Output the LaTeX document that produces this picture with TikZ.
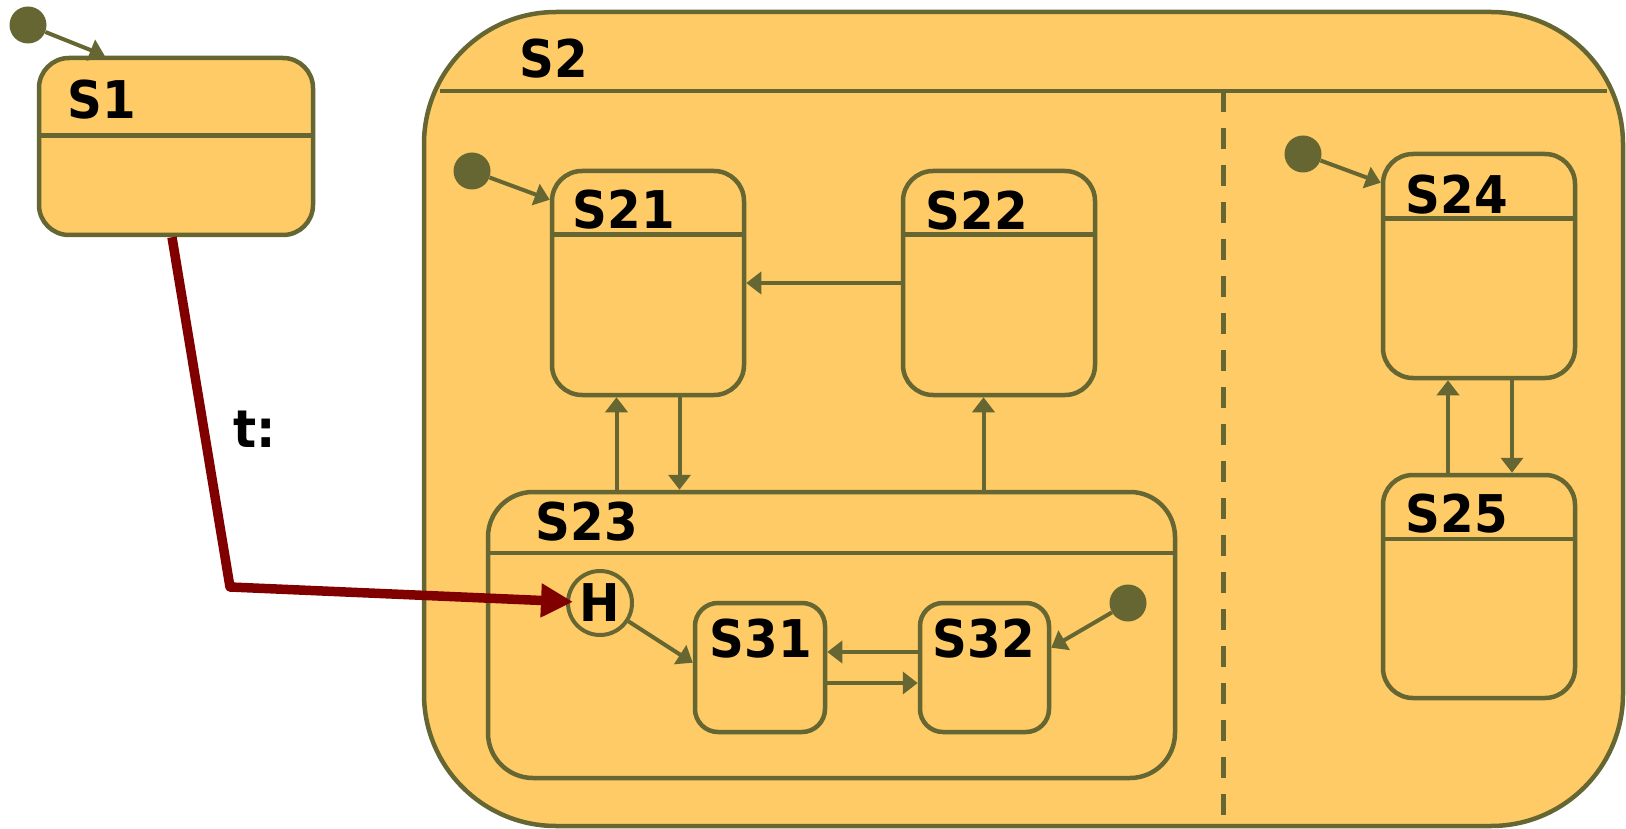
\documentclass[tikz,border=0pt]{standalone}
\usepackage{fontspec}
\setmainfont{DejaVu Sans}
\newfontfamily\statefont[FakeStretch=0.93]{DejaVu Sans}
\usetikzlibrary{arrows.meta}
\definecolor{stateolive}{HTML}{666633}
\definecolor{statefill}{HTML}{FECB66}
\definecolor{transred}{HTML}{800000}

\tikzset{
  state/.style={draw=stateolive, fill=statefill, line width=4.5pt, rounded corners=30pt, inner sep=0pt},
  initdot/.style={circle, fill=stateolive, minimum size=37pt, inner sep=0pt},
  trans/.style={draw=stateolive, line width=4pt, -{Triangle[length=15pt,width=22pt]}},
  sep/.style={draw=stateolive, line width=4.5pt},
  lbl/.style={font=\fontsize{52pt}{60pt}\statefont\bfseries, inner sep=0pt, anchor=base west},
}

\begin{document}
\begin{tikzpicture}[x=1pt, y=-1pt]
  \useasboundingbox (0,0) rectangle (1626,829);
  % states
  \node[state, minimum width=274pt, minimum height=177pt] (s1) at (176,146.5) {};
  \node[state, rounded corners=132pt, minimum width=1199pt, minimum height=814pt] (s2) at (1023.5,419) {};
  \draw[sep] (440,91) -- (1607,91);
  \draw[draw=stateolive, line width=5pt, dash pattern=on 21pt off 16pt] (1223,91) -- (1223,826);
  \node[state, minimum width=192pt, minimum height=224pt] (s21) at (648,283) {};
  \node[state, minimum width=192pt, minimum height=224pt] (s22) at (999,283) {};
  \node[state, rounded corners=45pt, minimum width=687pt, minimum height=286pt] (s23) at (831.5,635) {};
  \node[state, rounded corners=23pt, minimum width=130pt, minimum height=129pt] (s31) at (760,667.5) {};
  \node[state, rounded corners=23pt, minimum width=129pt, minimum height=129pt] (s32) at (984.5,667.5) {};
  \node[state, minimum width=192pt, minimum height=224pt] (s24) at (1479,266) {};
  \node[state, minimum width=192pt, minimum height=223pt] (s25) at (1479,586.5) {};
  \foreach \st/\dy in {s1/80, s21/66, s22/66, s23/63, s24/67, s25/66}
    \draw[sep] ([yshift=-\dy pt]\st.north west) -- ([yshift=-\dy pt]\st.north east);
  \foreach \st/\lb/\dx/\dy in {s1/S1/31/63, s2/S2/98/68, s21/S21/23/60, s22/S22/25/61, s23/S23/50/51,
                               s24/S24/25/62, s25/S25/25/60, s31/S31/17/57, s32/S32/15/57}
    \node[lbl] (\st-lbl) at ([xshift=\dx pt, yshift=-\dy pt]\st.north west) {\lb};
  \node[circle, draw=stateolive, line width=4pt, minimum size=64pt, inner sep=0pt,
        font=\fontsize{52pt}{60pt}\statefont\bfseries] (hist) at (600,603) {H};
  % initial states
  \node[initdot] (init1) at (28,25) {};
  \node[initdot] (init21) at (472,171) {};
  \node[initdot] (init24) at (1303,154) {};
  \node[initdot] (init32) at (1128,603) {};
  % transitions
  \coordinate (s21up) at ([xshift=-31.5pt]s21.south);
  \coordinate (s21dn) at ([xshift=31.5pt]s21.south);
  \coordinate (s22up) at ([xshift=-15.5pt]s22.south);
  \coordinate (s24up) at ([xshift=-31pt]s24.south);
  \coordinate (s24dn) at ([xshift=33pt]s24.south);
  \draw[trans] (init1) -- ([xshift=68pt]s1.north west);
  \draw[trans] (init21) -- ([yshift=-31pt]s21.north west);
  \draw[trans] (init24) -- ([yshift=-31pt]s24.north west);
  \draw[trans] (init32) -- ([yshift=-47pt]s32.north east);
  \draw[trans] (s22.west) -- (s21.east);
  \draw[trans] (s21up |- s23.north) -- (s21up);
  \draw[trans] (s21dn) -- (s21dn |- s23.north);
  \draw[trans] (s22up |- s23.north) -- (s22up);
  \draw[trans] (s24up |- s25.north) -- (s24up);
  \draw[trans] (s24dn) -- (s24dn |- s25.north);
  \draw[trans] (hist) -- ([yshift=-62pt]s31.north west);
  \draw[trans] ([yshift=15.5pt]s32.west) -- ([yshift=15.5pt]s31.east);
  \draw[trans] ([yshift=-15.5pt]s31.east) -- ([yshift=-15.5pt]s32.west);
  % history transition
  \coordinate (tbend) at (230,587);
  \draw[transred, line width=9.5pt, line join=round, -{Triangle[length=32pt,width=32pt]}, shorten >=-7pt]
    ([xshift=-4pt]s1.south) -- (tbend) -- (hist);
  \node[lbl] (tlabel) at (233,447) {t:};
\end{tikzpicture}
\end{document}
